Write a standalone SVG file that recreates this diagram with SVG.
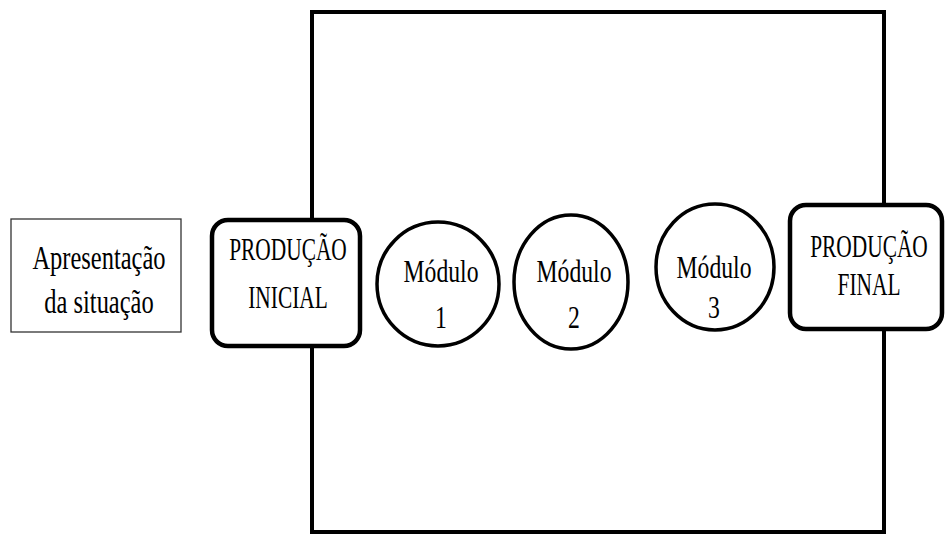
<svg xmlns="http://www.w3.org/2000/svg" width="945" height="535" viewBox="0 0 945 535">
<style>
.t{fill:#000;text-anchor:middle}
.big{fill:none;stroke:#000;stroke-width:4}
.thick{fill:#fff;stroke:#000;stroke-width:4.5}
.ell{fill:#fff;stroke:#000;stroke-width:3.5}
.thin{fill:#fff;stroke:#333;stroke-width:1.3}
</style>
<rect width="945" height="535" fill="#fff"/>
<g id="frame"><rect class="big" x="312" y="12" width="572" height="520"/></g>
<g id="connectors"></g>
<g font-family="'Liberation Serif', 'Times New Roman', serif">
<g id="apresentacao">
<rect class="thin" x="11" y="219" width="170" height="113"/>
<text class="t" font-size="34" transform="translate(99,269) scale(0.72,1)">Apresentação</text>
<text class="t" font-size="34" transform="translate(99,313) scale(0.72,1)">da situação</text>
</g>
<g id="producao-inicial">
<rect class="thick" x="212" y="220" width="148" height="126" rx="16"/>
<text class="t" font-size="31" transform="translate(288,260) scale(0.69,1)">PRODUÇÃO</text>
<text class="t" font-size="31" transform="translate(288,308) scale(0.69,1)">INICIAL</text>
</g>
<g id="modulo1">
<ellipse class="ell" cx="438" cy="284" rx="61" ry="62"/>
<text class="t" font-size="32" transform="translate(441,282) scale(0.74,1)">Módulo</text>
<text class="t" font-size="32" transform="translate(441,328) scale(0.74,1)">1</text>
</g>
<g id="modulo2">
<ellipse class="ell" cx="571" cy="282" rx="57" ry="67"/>
<text class="t" font-size="32" transform="translate(574,282) scale(0.74,1)">Módulo</text>
<text class="t" font-size="32" transform="translate(574,328) scale(0.74,1)">2</text>
</g>
<g id="modulo3">
<ellipse class="ell" cx="715" cy="267" rx="59" ry="63"/>
<text class="t" font-size="32" transform="translate(714,278) scale(0.74,1)">Módulo</text>
<text class="t" font-size="32" transform="translate(714,318) scale(0.74,1)">3</text>
</g>
<g id="producao-final">
<rect class="thick" x="790" y="205" width="152" height="124" rx="16"/>
<text class="t" font-size="31" transform="translate(869,257) scale(0.69,1)">PRODUÇÃO</text>
<text class="t" font-size="31" transform="translate(869,295) scale(0.69,1)">FINAL</text>
</g>
</g>
</svg>
